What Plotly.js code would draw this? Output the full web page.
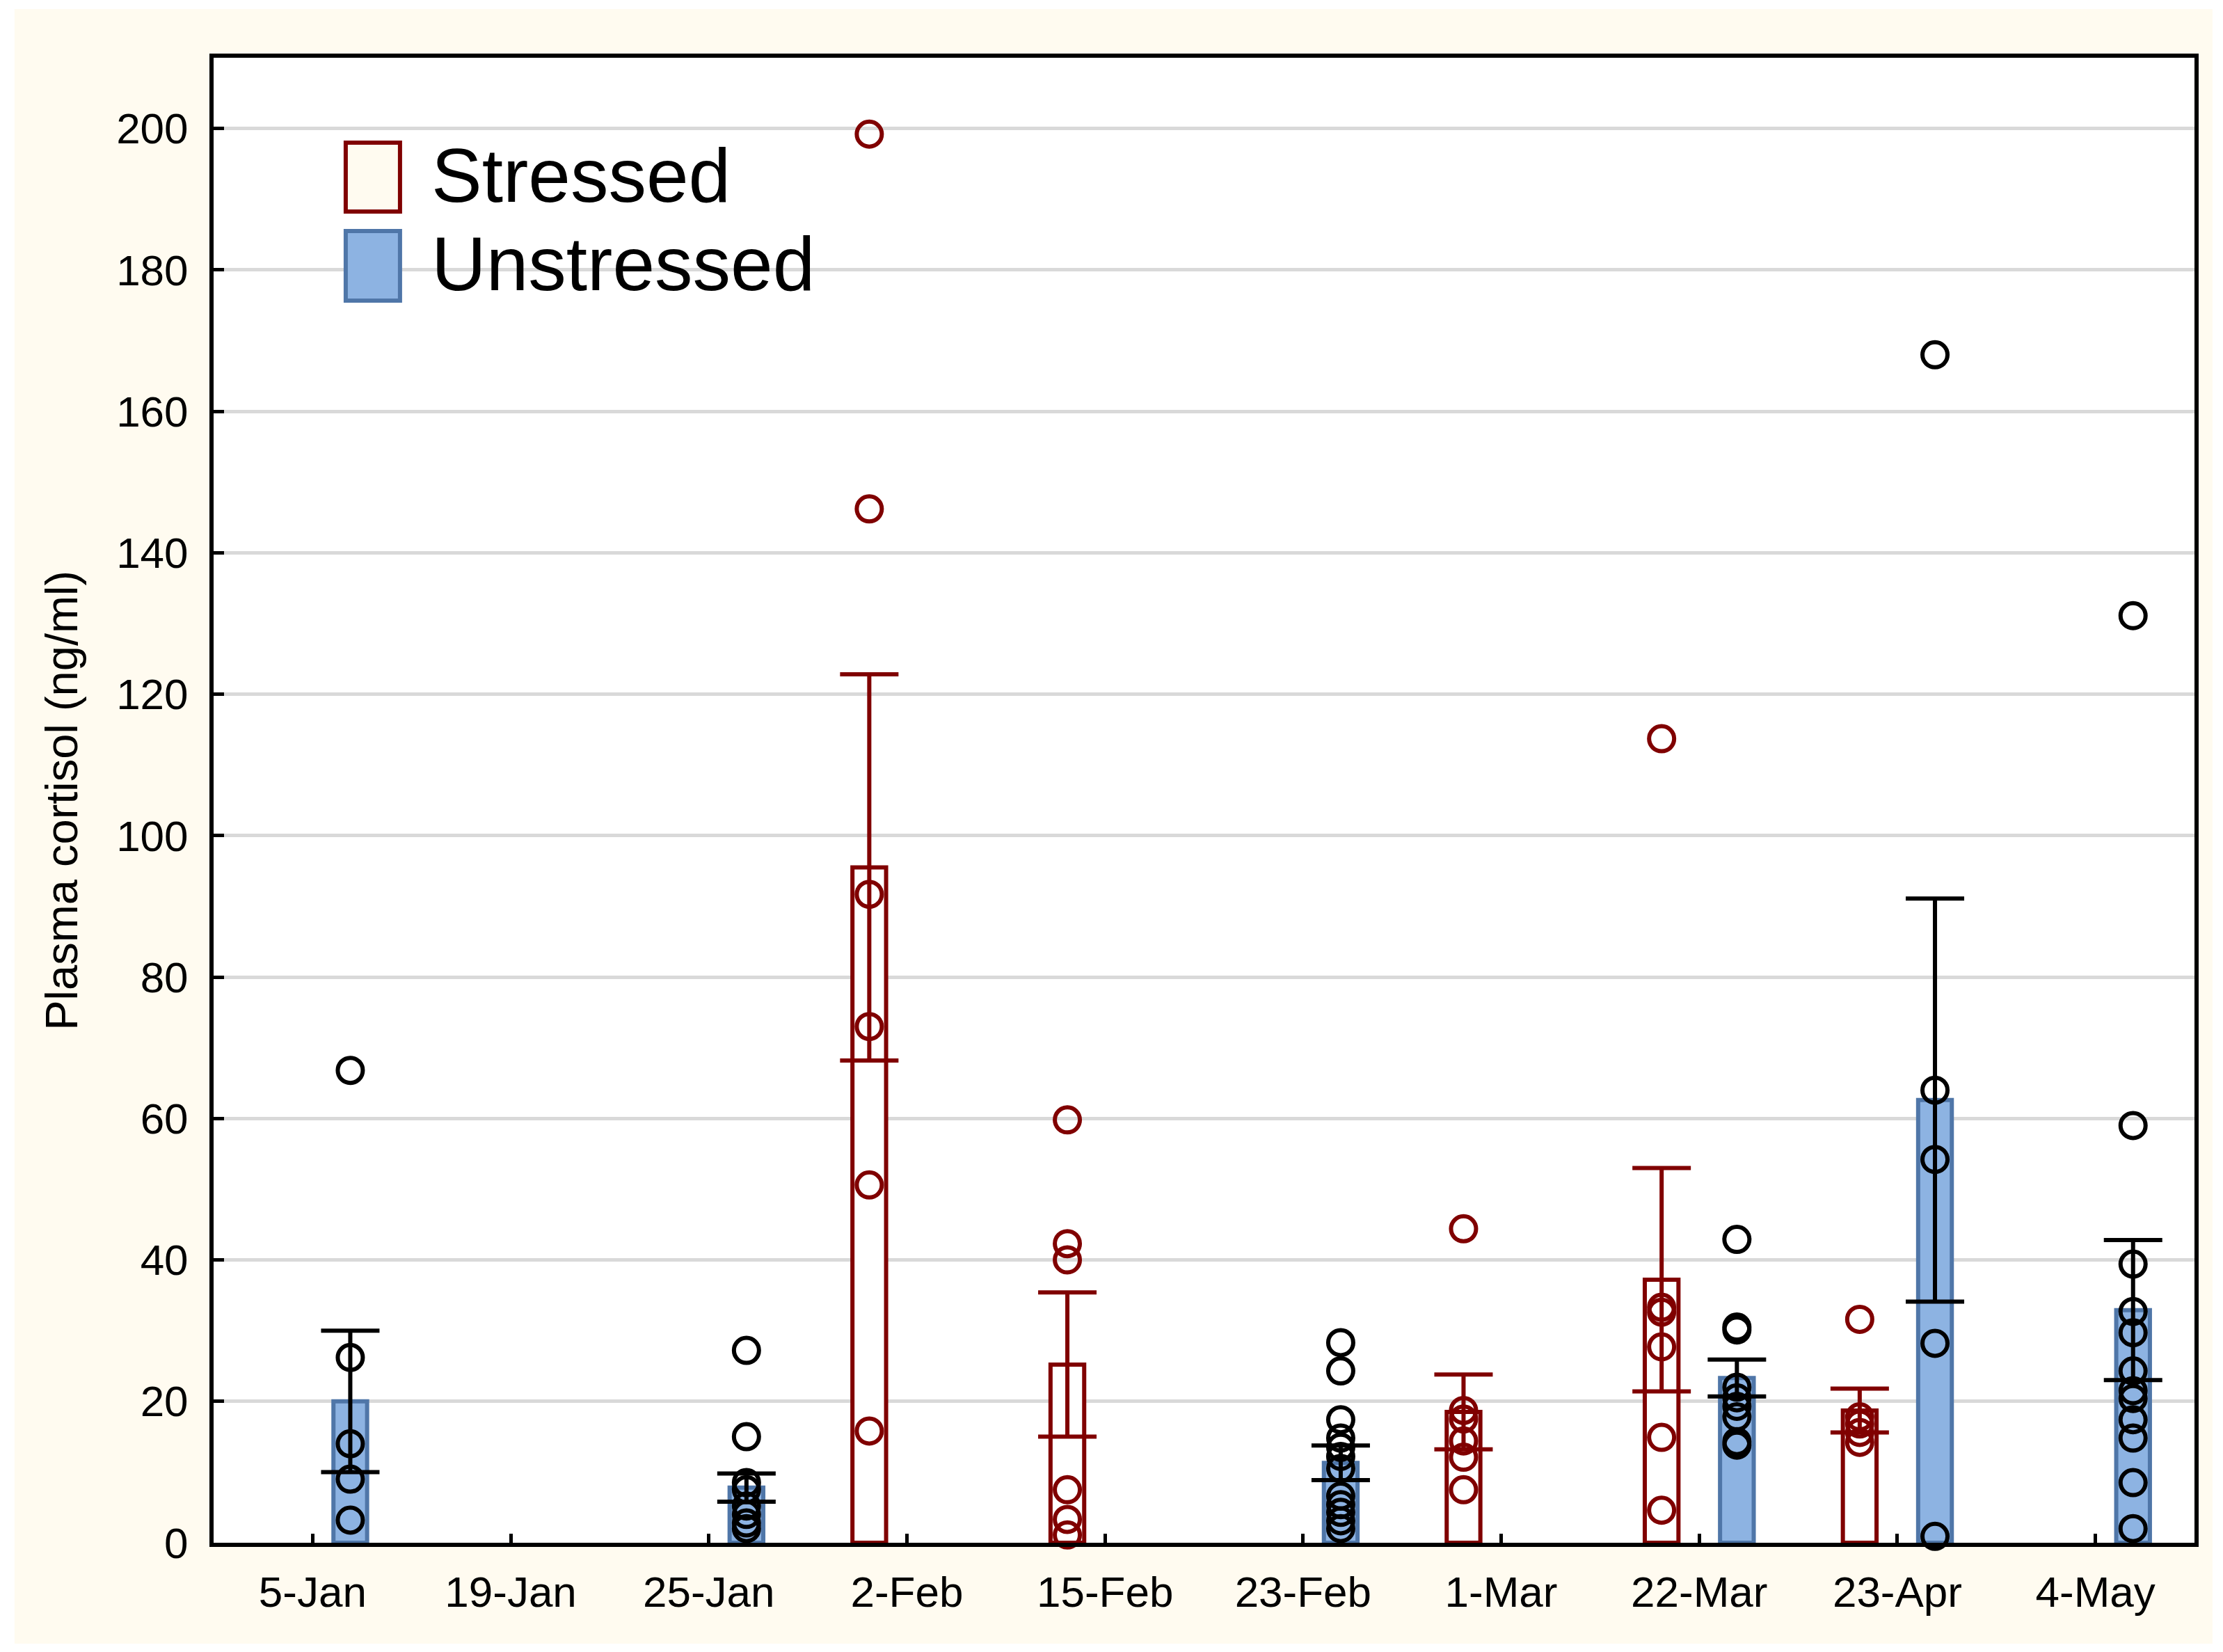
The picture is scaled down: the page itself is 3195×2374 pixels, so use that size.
<!DOCTYPE html>
<html>
<head>
<meta charset="utf-8">
<script src="https://cdn.plot.ly/plotly-3.0.1.min.js"></script>
<style>
  html, body { margin: 0; padding: 0; background: #ffffff; }
  #chart { width: 3195px; height: 2374px; }
</style>
</head>
<body>
<div id="chart"></div>
<script>
// ---- Data ----
const categories = ['5-Jan', '19-Jan', '25-Jan', '2-Feb', '15-Feb', '23-Feb', '1-Mar', '22-Mar', '23-Apr', '4-May'];

const stressedMean = [null, null, null, 95.5, 25.2, null, 18.5, 37.2, 18.7, null];
const stressedSE   = [null, null, null, 27.3, 10.2, null, 5.3, 15.8, 3.1, null];

const unstressedMean = [20.0, null, 7.8, null, null, 11.3, null, 23.3, 62.6, 32.9];
const unstressedSE   = [10.0, null, 2.0, null, null, 2.45, null, 2.6, 28.5, 9.9];

const stressedPoints = [
  [], [], [],
  [199.2, 146.2, 91.7, 73.0, 50.6, 15.8],
  [59.8, 42.3, 40.0, 7.5, 3.3, 1.1],
  [],
  [44.4, 18.7, 17.5, 14.4, 12.1, 7.5],
  [113.7, 33.3, 32.6, 27.7, 14.9, 4.6],
  [31.6, 17.8, 16.8, 15.6, 14.2],
  []
];

const unstressedPoints = [
  [66.8, 26.2, 14.0, 9.0, 3.2],
  [],
  [27.2, 15.0, 8.5, 7.5, 5.2, 4.0, 2.8, 2.0],
  [], [],
  [28.3, 24.3, 17.4, 14.8, 13.5, 12.2, 10.5, 6.6, 5.4, 4.3, 3.1, 2.0],
  [],
  [42.9, 30.5, 30.1, 22.0, 20.5, 19.3, 17.8, 14.3, 13.8],
  [168.0, 64.0, 54.2, 28.2, 0.9],
  [131.1, 59.0, 39.4, 32.7, 29.7, 24.3, 21.5, 20.4, 17.4, 14.8, 8.5, 2.0]
];

const yTicks = [0, 20, 40, 60, 80, 100, 120, 140, 160, 180, 200];

// ---- Styling ----
const FONT = 'Liberation Sans, Arial, Helvetica, sans-serif';
const RED = '#800000';
const BLUE_FILL = '#8DB3E2';
const BLUE_LINE = '#4F76A8';
const CREAM = '#FFFBF0';

const barWidth = 0.17;
const groupShift = 0.19;
const idx = categories.map((_, i) => i);

function flatten(pointsArr, shift) {
  const xs = [], ys = [];
  pointsArr.forEach((vals, i) => {
    vals.forEach(v => { xs.push(i + shift); ys.push(v); });
  });
  return { xs, ys };
}

const sP = flatten(stressedPoints, -groupShift);
const uP = flatten(unstressedPoints, groupShift);

const traces = [
  {
    type: 'bar', name: 'Stressed', x: idx, y: stressedMean,
    width: barWidth, offset: -groupShift - barWidth / 2,
    marker: { color: '#FFFFFF', line: { color: RED, width: 6 } },
    error_y: { type: 'data', array: stressedSE, visible: true, color: RED, thickness: 6, width: 42 },
    showlegend: false, hoverinfo: 'skip'
  },
  {
    type: 'bar', name: 'Unstressed', x: idx, y: unstressedMean,
    width: barWidth, offset: groupShift - barWidth / 2,
    marker: { color: BLUE_FILL, line: { color: BLUE_LINE, width: 6 } },
    error_y: { type: 'data', array: unstressedSE, visible: true, color: '#000000', thickness: 6, width: 42 },
    showlegend: false, hoverinfo: 'skip'
  },
  {
    type: 'scatter', mode: 'markers', x: sP.xs, y: sP.ys, cliponaxis: false,
    marker: { symbol: 'circle-open', size: 36, color: RED, line: { width: 6, color: RED } },
    showlegend: false, hoverinfo: 'skip'
  },
  {
    type: 'scatter', mode: 'markers', x: uP.xs, y: uP.ys, cliponaxis: false,
    marker: { symbol: 'circle-open', size: 36, color: '#000000', line: { width: 6, color: '#000000' } },
    showlegend: false, hoverinfo: 'skip'
  }
];

const layout = {
  width: 3195, height: 2374,
  margin: { l: 307, r: 41, t: 83, b: 157, pad: 0 },
  paper_bgcolor: '#FFFFFF',
  plot_bgcolor: '#FFFFFF',
  font: { family: FONT, color: '#000000', size: 62 },
  barmode: 'overlay',
  showlegend: false,
  xaxis: {
    type: 'linear', range: [-0.5, 9.5],
    tickmode: 'array', tickvals: idx, ticktext: categories,
    ticks: 'inside', ticklen: 13, tickwidth: 5, tickcolor: '#000000',
    showline: true, linecolor: '#000000', linewidth: 6, mirror: true,
    showgrid: false, zeroline: false,
    tickfont: { family: FONT, size: 62, color: '#000000' },
    ticklabelstandoff: 12
  },
  yaxis: {
    type: 'linear', range: [0, 210],
    tickmode: 'array', tickvals: yTicks,
    ticks: 'inside', ticklen: 15, tickwidth: 5, tickcolor: '#000000',
    showline: true, linecolor: '#000000', linewidth: 6, mirror: true,
    showgrid: true, gridcolor: '#D9D9D9', gridwidth: 5,
    zeroline: false,
    tickfont: { family: FONT, size: 62, color: '#000000' },
    ticklabelstandoff: 18
  },
  shapes: [
    // cream page background with a hole over the plot area
    {
      type: 'path', xref: 'paper', yref: 'paper', layer: 'below',
      path: 'M -0.1005,-0.0679 L 1.0091,-0.0679 L 1.0091,1.0328 L -0.1005,1.0328 Z M 0,0 L 0,1 L 1,1 L 1,0 Z',
      fillcolor: CREAM, line: { width: 0 }
    },
    // legend swatches
    {
      type: 'rect', xref: 'paper', yref: 'paper',
      x0: 0.0667, x1: 0.0941, y0: 0.8964, y1: 0.9428,
      fillcolor: CREAM, line: { color: RED, width: 6 }
    },
    {
      type: 'rect', xref: 'paper', yref: 'paper',
      x0: 0.0667, x1: 0.0941, y0: 0.8365, y1: 0.8833,
      fillcolor: BLUE_FILL, line: { color: BLUE_LINE, width: 6 }
    }
  ],
  annotations: [
    {
      text: 'Stressed', xref: 'paper', yref: 'paper', x: 0.1092, y: 0.9208,
      xanchor: 'left', yanchor: 'middle', showarrow: false,
      font: { family: FONT, size: 109, color: '#000000' }
    },
    {
      text: 'Unstressed', xref: 'paper', yref: 'paper', x: 0.1092, y: 0.8613,
      xanchor: 'left', yanchor: 'middle', showarrow: false,
      font: { family: FONT, size: 109, color: '#000000' }
    },
    {
      text: 'Plasma cortisol (ng/ml)', xref: 'paper', yref: 'paper', x: -0.077, y: 0.5,
      xanchor: 'center', yanchor: 'middle', textangle: -90, showarrow: false,
      font: { family: FONT, size: 65, color: '#000000' }
    }
  ]
};

Plotly.newPlot('chart', traces, layout, { staticPlot: true, displayModeBar: false });
</script>
</body>
</html>
